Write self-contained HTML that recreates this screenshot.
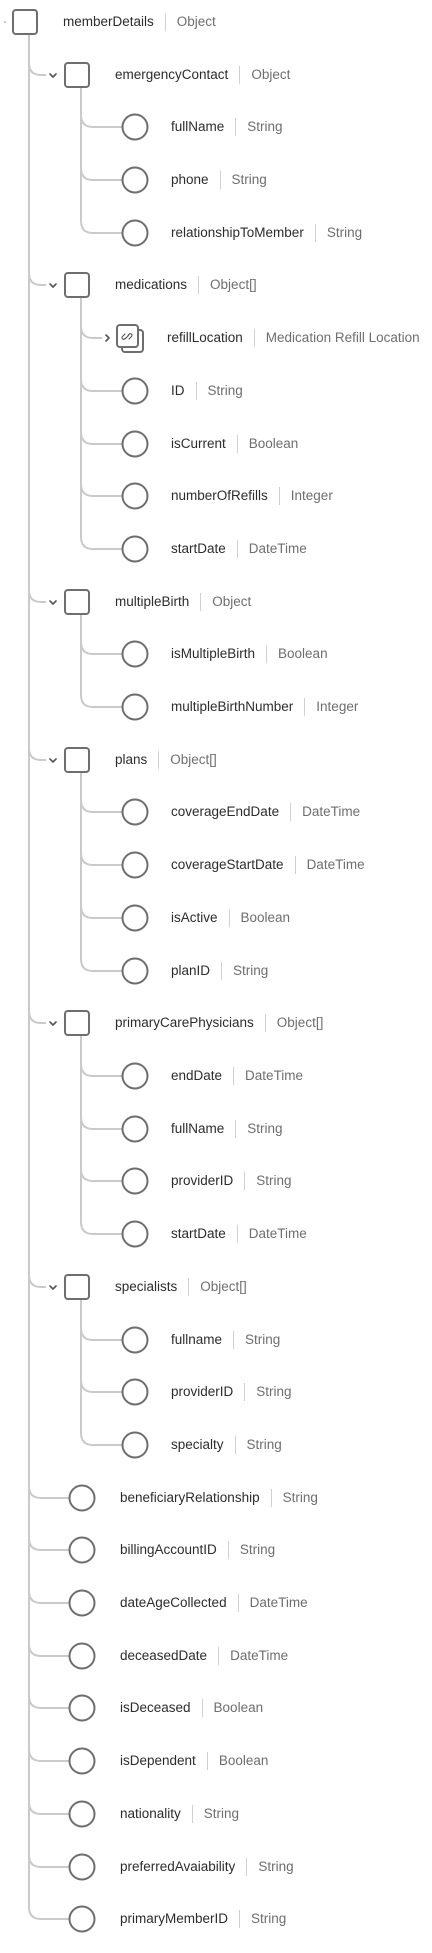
<!DOCTYPE html>
<html><head><meta charset="utf-8"><style>
html,body{margin:0;padding:0;background:#fff;}
body{width:432px;height:1953px;position:relative;overflow:hidden;font-family:"Liberation Sans",sans-serif;font-size:13.5px;}
svg{position:absolute;left:0;top:0;}
.l{position:absolute;height:18px;line-height:18px;white-space:nowrap;color:#2c2c2c;}
.l i{font-style:normal;display:inline-block;width:1px;height:18px;background:#d0d0d0;vertical-align:top;margin:0 11px;}
.l b{font-weight:normal;color:#6e6e6e;}
</style></head><body>
<svg width="432" height="1953" viewBox="0 0 432 1953">
<g fill="none" stroke="#cacaca" stroke-width="2">
<path d="M29,34 V1907 Q29,1919 41,1919 H69"/>
<path d="M29,63 Q29,75 41,75 H46"/>
<path d="M29,273 Q29,285 41,285 H46"/>
<path d="M29,590 Q29,602 41,602 H46"/>
<path d="M29,748 Q29,760 41,760 H46"/>
<path d="M29,1011 Q29,1023 41,1023 H46"/>
<path d="M29,1275 Q29,1287 41,1287 H46"/>
<path d="M29,1486 Q29,1498 41,1498 H69"/>
<path d="M29,1538 Q29,1550 41,1550 H69"/>
<path d="M29,1591 Q29,1603 41,1603 H69"/>
<path d="M29,1644 Q29,1656 41,1656 H69"/>
<path d="M29,1696 Q29,1708 41,1708 H69"/>
<path d="M29,1749 Q29,1761 41,1761 H69"/>
<path d="M29,1802 Q29,1814 41,1814 H69"/>
<path d="M29,1855 Q29,1867 41,1867 H69"/>
<!-- emergencyContact -->
<path d="M81,87 V221 Q81,233 93,233 H122"/>
<path d="M81,115 Q81,127 93,127 H122"/>
<path d="M81,168 Q81,180 93,180 H122"/>
<!-- medications -->
<path d="M81,297 V537 Q81,549 93,549 H122"/>
<path d="M81,326 Q81,338 93,338 H102"/>
<path d="M81,379 Q81,391 93,391 H122"/>
<path d="M81,432 Q81,444 93,444 H122"/>
<path d="M81,484 Q81,496 93,496 H122"/>
<!-- multipleBirth -->
<path d="M81,614 V695 Q81,707 93,707 H122"/>
<path d="M81,642 Q81,654 93,654 H122"/>
<!-- plans -->
<path d="M81,772 V959 Q81,971 93,971 H122"/>
<path d="M81,800 Q81,812 93,812 H122"/>
<path d="M81,853 Q81,865 93,865 H122"/>
<path d="M81,906 Q81,918 93,918 H122"/>
<!-- primaryCare -->
<path d="M81,1035 V1222 Q81,1234 93,1234 H122"/>
<path d="M81,1064 Q81,1076 93,1076 H122"/>
<path d="M81,1117 Q81,1129 93,1129 H122"/>
<path d="M81,1169 Q81,1181 93,1181 H122"/>
<!-- specialists -->
<path d="M81,1299 V1433 Q81,1445 93,1445 H122"/>
<path d="M81,1328 Q81,1340 93,1340 H122"/>
<path d="M81,1380 Q81,1392 93,1392 H122"/>
</g>
<g fill="#fff" stroke="#6e6e6e" stroke-width="2">
<rect x="13" y="10" width="24" height="24" rx="3"/>
<rect x="65" y="63" width="24" height="24" rx="3"/>
<rect x="65" y="273" width="24" height="24" rx="3"/>
<rect x="65" y="590" width="24" height="24" rx="3"/>
<rect x="65" y="748" width="24" height="24" rx="3"/>
<rect x="65" y="1011" width="24" height="24" rx="3"/>
<rect x="65" y="1275" width="24" height="24" rx="3"/>
<rect x="122" y="330" width="21" height="22" rx="3"/>
<rect x="117" y="325" width="21" height="22" rx="3"/>
<circle cx="135" cy="127" r="12.5"/><circle cx="135" cy="180" r="12.5"/><circle cx="135" cy="233" r="12.5"/>
<circle cx="135" cy="391" r="12.5"/><circle cx="135" cy="444" r="12.5"/><circle cx="135" cy="496" r="12.5"/><circle cx="135" cy="549" r="12.5"/>
<circle cx="135" cy="654" r="12.5"/><circle cx="135" cy="707" r="12.5"/>
<circle cx="135" cy="812" r="12.5"/><circle cx="135" cy="865" r="12.5"/><circle cx="135" cy="918" r="12.5"/><circle cx="135" cy="971" r="12.5"/>
<circle cx="135" cy="1076" r="12.5"/><circle cx="135" cy="1129" r="12.5"/><circle cx="135" cy="1181" r="12.5"/><circle cx="135" cy="1234" r="12.5"/>
<circle cx="135" cy="1340" r="12.5"/><circle cx="135" cy="1392" r="12.5"/><circle cx="135" cy="1445" r="12.5"/>
<circle cx="82" cy="1498" r="12.5"/><circle cx="82" cy="1550" r="12.5"/><circle cx="82" cy="1603" r="12.5"/><circle cx="82" cy="1656" r="12.5"/>
<circle cx="82" cy="1708" r="12.5"/><circle cx="82" cy="1761" r="12.5"/><circle cx="82" cy="1814" r="12.5"/><circle cx="82" cy="1867" r="12.5"/><circle cx="82" cy="1919" r="12.5"/>
</g>
<g fill="none" stroke="#555" stroke-width="1.6" stroke-linecap="round" stroke-linejoin="round">
<polyline points="50,74 53,77 56,74"/>
<polyline points="50,284 53,287 56,284"/>
<polyline points="50,601 53,604 56,601"/>
<polyline points="50,759 53,762 56,759"/>
<polyline points="50,1022 53,1025 56,1022"/>
<polyline points="50,1286 53,1289 56,1286"/>
<polyline points="106,335 109,338 106,341"/>
<path d="M125,334 l-2.5,2.5 a1.6,1.6 0 0 0 2.3,2.3 l1.2,-1.2 M129,339 l2.5,-2.5 a1.6,1.6 0 0 0 -2.3,-2.3 l-1.2,1.2 M125.5,338.5 l3,-3" stroke-width="1.1"/>
</g>
<circle cx="5" cy="22" r="0.8" fill="#888"/>
</svg>
<div class="l" style="left:63px;top:13px">memberDetails<i></i><b>Object</b></div>
<div class="l" style="left:115px;top:66px">emergencyContact<i></i><b>Object</b></div>
<div class="l" style="left:171px;top:118px">fullName<i></i><b>String</b></div>
<div class="l" style="left:171px;top:171px">phone<i></i><b>String</b></div>
<div class="l" style="left:171px;top:224px">relationshipToMember<i></i><b>String</b></div>
<div class="l" style="left:115px;top:276px">medications<i></i><b>Object[]</b></div>
<div class="l" style="left:167px;top:329px">refillLocation<i></i><b>Medication Refill Location</b></div>
<div class="l" style="left:171px;top:382px">ID<i></i><b>String</b></div>
<div class="l" style="left:171px;top:435px">isCurrent<i></i><b>Boolean</b></div>
<div class="l" style="left:171px;top:487px">numberOfRefills<i></i><b>Integer</b></div>
<div class="l" style="left:171px;top:540px">startDate<i></i><b>DateTime</b></div>
<div class="l" style="left:115px;top:593px">multipleBirth<i></i><b>Object</b></div>
<div class="l" style="left:171px;top:645px">isMultipleBirth<i></i><b>Boolean</b></div>
<div class="l" style="left:171px;top:698px">multipleBirthNumber<i></i><b>Integer</b></div>
<div class="l" style="left:115px;top:751px">plans<i></i><b>Object[]</b></div>
<div class="l" style="left:171px;top:803px">coverageEndDate<i></i><b>DateTime</b></div>
<div class="l" style="left:171px;top:856px">coverageStartDate<i></i><b>DateTime</b></div>
<div class="l" style="left:171px;top:909px">isActive<i></i><b>Boolean</b></div>
<div class="l" style="left:171px;top:962px">planID<i></i><b>String</b></div>
<div class="l" style="left:115px;top:1014px">primaryCarePhysicians<i></i><b>Object[]</b></div>
<div class="l" style="left:171px;top:1067px">endDate<i></i><b>DateTime</b></div>
<div class="l" style="left:171px;top:1120px">fullName<i></i><b>String</b></div>
<div class="l" style="left:171px;top:1172px">providerID<i></i><b>String</b></div>
<div class="l" style="left:171px;top:1225px">startDate<i></i><b>DateTime</b></div>
<div class="l" style="left:115px;top:1278px">specialists<i></i><b>Object[]</b></div>
<div class="l" style="left:171px;top:1331px">fullname<i></i><b>String</b></div>
<div class="l" style="left:171px;top:1383px">providerID<i></i><b>String</b></div>
<div class="l" style="left:171px;top:1436px">specialty<i></i><b>String</b></div>
<div class="l" style="left:120px;top:1489px">beneficiaryRelationship<i></i><b>String</b></div>
<div class="l" style="left:120px;top:1541px">billingAccountID<i></i><b>String</b></div>
<div class="l" style="left:120px;top:1594px">dateAgeCollected<i></i><b>DateTime</b></div>
<div class="l" style="left:120px;top:1647px">deceasedDate<i></i><b>DateTime</b></div>
<div class="l" style="left:120px;top:1699px">isDeceased<i></i><b>Boolean</b></div>
<div class="l" style="left:120px;top:1752px">isDependent<i></i><b>Boolean</b></div>
<div class="l" style="left:120px;top:1805px">nationality<i></i><b>String</b></div>
<div class="l" style="left:120px;top:1858px">preferredAvaiability<i></i><b>String</b></div>
<div class="l" style="left:120px;top:1910px">primaryMemberID<i></i><b>String</b></div>
</body></html>
